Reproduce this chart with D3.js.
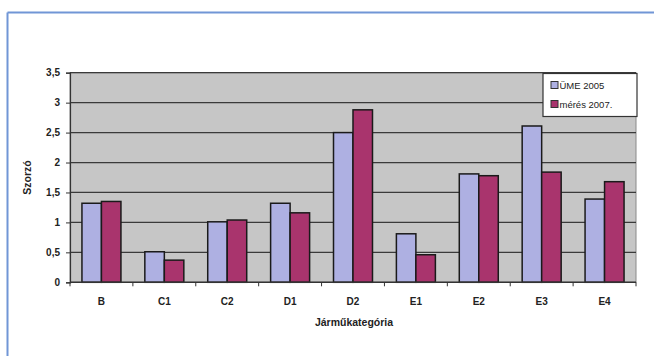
<!DOCTYPE html>
<html>
<head>
<meta charset="utf-8">
<script src="https://cdn.jsdelivr.net/npm/d3@7"></script>
<style>
  html, body { margin: 0; padding: 0; background: #fff; }
  svg { display: block; }
  text { font-family: "Liberation Sans", Arial, sans-serif; fill: #222; }
</style>
</head>
<body>
<svg id="chart" width="654" height="356"></svg>
<script>
// Vehicle categories and the multiplier per survey
const categories = ["B", "C1", "C2", "D1", "D2", "E1", "E2", "E3", "E4"];
const ume2005 = [1.32, 0.51, 1.01, 1.32, 2.50, 0.81, 1.81, 2.61, 1.39];
const meres2007 = [1.35, 0.37, 1.04, 1.16, 2.88, 0.46, 1.78, 1.84, 1.68];
const seriesNames = ["ÜME 2005", "mérés 2007."];
const yTicks = [0, 0.5, 1, 1.5, 2, 2.5, 3, 3.5];
const yTickLabels = ["0", "0,5", "1", "1,5", "2", "2,5", "3", "3,5"];

const colors = ["#aeb0e2", "#a9346d"];

const svg = d3.select("#chart");

// outer frame (blue rule on the top and left)
svg.append("line").attr("x1", 7.5).attr("x2", 654).attr("y1", 12.5).attr("y2", 12.5)
  .attr("stroke", "#7196d6").attr("stroke-width", 2);
svg.append("line").attr("x1", 7.5).attr("x2", 7.5).attr("y1", 12.5).attr("y2", 356)
  .attr("stroke", "#7196d6").attr("stroke-width", 2);

const plot = { left: 70, right: 636, top: 72.7, bottom: 282.3 };

const x0 = d3.scaleBand().domain(categories).range([plot.left, plot.right]).paddingInner(0).paddingOuter(0);
const x1 = d3.scaleBand().domain([0, 1]).range([x0.bandwidth() * 0.19, x0.bandwidth() * 0.81]);
const y = d3.scaleLinear().domain([0, 3.5]).range([plot.bottom, plot.top]);

// plot background
svg.append("rect")
  .attr("x", plot.left).attr("y", plot.top)
  .attr("width", plot.right - plot.left).attr("height", plot.bottom - plot.top)
  .attr("fill", "#c6c6c6").attr("stroke", "#8a8a8a").attr("stroke-width", 1);

// gridlines
svg.append("g").selectAll("line").data(yTicks.filter(d => d > 0)).join("line")
  .attr("x1", plot.left).attr("x2", plot.right)
  .attr("y1", d => y(d)).attr("y2", d => y(d))
  .attr("stroke", "#3a3a3a").attr("stroke-width", 1.2);

// bars
const data = categories.map((c, i) => ({ cat: c, vals: [ume2005[i], meres2007[i]] }));
const groups = svg.append("g").selectAll("g").data(data).join("g")
  .attr("transform", d => `translate(${x0(d.cat)},0)`);
groups.selectAll("rect").data(d => d.vals.map((v, k) => ({ v, k }))).join("rect")
  .attr("x", d => x1(d.k))
  .attr("width", x1.bandwidth())
  .attr("y", d => y(d.v))
  .attr("height", d => y(0) - y(d.v))
  .attr("fill", d => colors[d.k])
  .attr("stroke", "#1a1a1a").attr("stroke-width", 1.5);

// y axis
const yAxis = d3.axisLeft(y).tickValues(yTicks)
  .tickFormat((d, i) => yTickLabels[i]).tickSize(4).tickPadding(6);
const gy = svg.append("g").attr("transform", `translate(${plot.left},0)`).call(yAxis);
gy.select(".domain").attr("stroke", "#333").attr("stroke-width", 1.2);
gy.selectAll(".tick line").attr("stroke", "#333");
gy.selectAll("text").attr("font-size", 10).attr("font-weight", "bold").attr("fill", "#333");

// x axis with ticks between categories
const gx = svg.append("g").attr("transform", `translate(0,${plot.bottom})`);
gx.append("line").attr("x1", plot.left).attr("x2", plot.right)
  .attr("stroke", "#333").attr("stroke-width", 1.5);
const boundaries = categories.map(c => x0(c)).concat([plot.right]);
gx.selectAll("line.tk").data(boundaries).join("line").attr("class", "tk")
  .attr("x1", d => d).attr("x2", d => d).attr("y1", 0).attr("y2", 4)
  .attr("stroke", "#333");
gx.selectAll("text").data(categories).join("text")
  .attr("x", d => x0(d) + x0.bandwidth() / 2).attr("y", 23)
  .attr("text-anchor", "middle").attr("font-size", 10).attr("font-weight", "bold")
  .attr("fill", "#333").text(d => d);

// axis titles
svg.append("text").attr("x", 354).attr("y", 326).attr("text-anchor", "middle")
  .attr("font-size", 10.5).attr("font-weight", "bold").text("Járműkategória");
svg.append("text")
  .attr("transform", `translate(31,${(plot.top + plot.bottom) / 2}) rotate(-90)`)
  .attr("text-anchor", "middle").attr("font-size", 10.5).attr("font-weight", "bold").text("Szorzó");

// legend
const lg = svg.append("g").attr("transform", "translate(543,73.5)");
lg.append("rect").attr("width", 94).attr("height", 43)
  .attr("fill", "#fff").attr("stroke", "#333").attr("stroke-width", 1.2);
seriesNames.forEach((name, k) => {
  const row = lg.append("g").attr("transform", `translate(8,${11.5 + k * 19})`);
  row.append("rect").attr("x", 0).attr("y", -3.5).attr("width", 7).attr("height", 7)
    .attr("fill", colors[k]).attr("stroke", "#333").attr("stroke-width", 1);
  row.append("text").attr("x", 8.5).attr("y", 3.5).attr("font-size", 9.5)
    .attr("fill", "#333").text(name);
});
</script>
</body>
</html>
